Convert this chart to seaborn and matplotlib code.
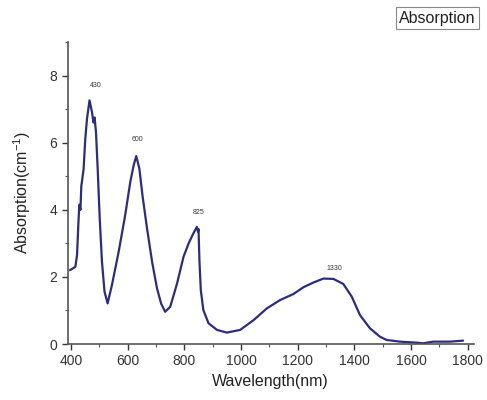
import numpy as np
import pandas as pd
import seaborn as sns
import matplotlib.pyplot as plt
from matplotlib.ticker import MultipleLocator

# absorption spectrum
wavelength = [396, 415, 421, 425, 429, 433, 436, 444, 450, 456, 465, 474, 479,
              483, 488, 494, 501, 509, 518, 529, 544, 568, 591, 609, 621, 630,
              641, 652, 668, 686, 703, 718, 732, 750, 774, 797, 815, 832, 844,
              848, 850, 853, 858, 867, 885, 915, 950, 997, 1044, 1091, 1138,
              1185, 1220, 1255, 1291, 1326, 1361, 1391, 1420, 1455, 1490, 1514,
              1561, 1620, 1643, 1678, 1737, 1784]
absorption = [2.2, 2.3, 2.65, 3.45, 4.15, 4.0, 4.7, 5.2, 6.1, 6.7, 7.26, 6.9, 6.6,
              6.75, 6.3, 5.2, 3.75, 2.45, 1.56, 1.21, 1.75, 2.75, 3.84, 4.83, 5.33, 5.6,
              5.23, 4.43, 3.45, 2.45, 1.67, 1.2, 0.96, 1.11, 1.8, 2.6, 3.0, 3.3, 3.49,
              3.35, 3.42, 2.5, 1.6, 1.01, 0.62, 0.42, 0.34, 0.42, 0.71, 1.06, 1.31,
              1.49, 1.69, 1.83, 1.95, 1.94, 1.79, 1.41, 0.86, 0.47, 0.22, 0.12,
              0.07, 0.04, 0.02, 0.07, 0.07, 0.10]

peak_labels = ["430", "600", "825", "1330"]
peak_x = [488, 633, 852, 1329]
peak_y = [7.6, 6.0, 3.8, 2.14]

df = pd.DataFrame({"Wavelength": wavelength, "Absorption": absorption})

sns.set_style("ticks")
plt.rcParams["font.family"] = ["Liberation Sans", "DejaVu Sans"]
plt.rcParams["mathtext.fontset"] = "custom"
plt.rcParams["mathtext.rm"] = "Liberation Sans"

fig = plt.figure(figsize=(4.87, 4.0), dpi=100)
ax = fig.add_axes([0.139, 0.14, 0.834, 0.755])

sns.lineplot(data=df, x="Wavelength", y="Absorption", ax=ax,
             color="#2c2d7c", linewidth=1.6, label="Absorption", legend=False)

for lab, px, py in zip(peak_labels, peak_x, peak_y):
    ax.text(px, py, lab, fontsize=5, ha="center", va="bottom", color="#333333")

ax.set_xlim(388, 1822)
ax.set_ylim(0, 9)
ax.xaxis.set_major_locator(MultipleLocator(200))
ax.xaxis.set_minor_locator(MultipleLocator(100))
ax.yaxis.set_major_locator(MultipleLocator(2))
ax.yaxis.set_minor_locator(MultipleLocator(1))
ax.set_yticks([0, 2, 4, 6, 8])
ax.tick_params(which="major", direction="out", length=4, width=1,
               labelsize=10, colors="#333333")
ax.tick_params(which="minor", direction="out", length=2.5, width=0.8,
               colors="#555555")
sns.despine(ax=ax)
for s in ["left", "bottom"]:
    ax.spines[s].set_color("#555555")
    ax.spines[s].set_linewidth(1.2)

ax.set_xlabel("Wavelength(nm)", fontsize=11.5, color="#222222", labelpad=4)
ax.set_ylabel("Absorption(cm$^{\\mathregular{-1}}$)", fontsize=11.5,
              color="#222222", labelpad=12)

fig.text(0.898, 0.954, "Absorption", fontsize=11.5, ha="center", va="center",
         color="#222222",
         bbox=dict(boxstyle="square,pad=0.22", facecolor="white",
                   edgecolor="#888888", linewidth=0.8))

fig.savefig("out.png", dpi=100)
